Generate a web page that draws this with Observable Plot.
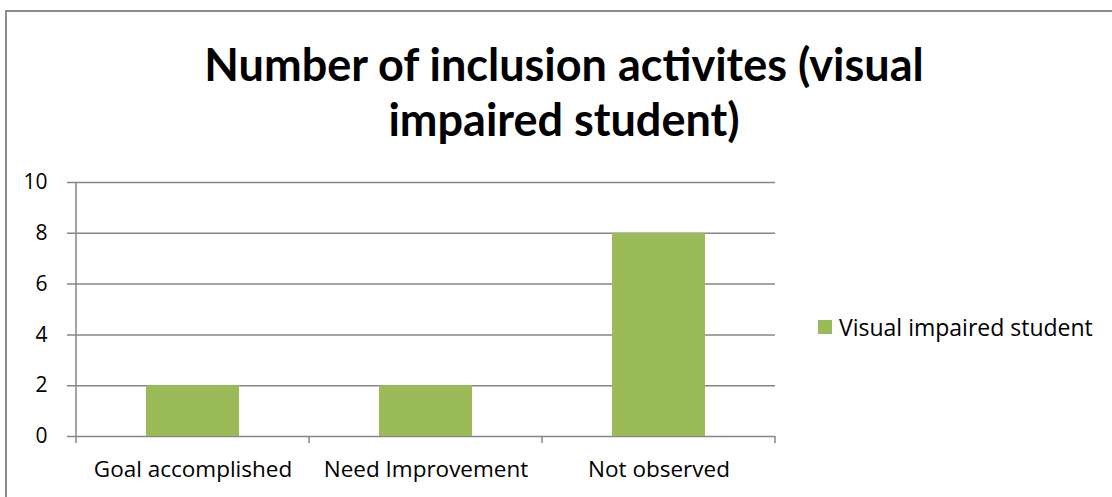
<!DOCTYPE html>
<html><head><meta charset="utf-8">
<script src="https://cdn.jsdelivr.net/npm/d3@7"></script>
<script src="https://cdn.jsdelivr.net/npm/@observablehq/plot@0.6"></script>
<style>
html,body{margin:0;padding:0;background:#fff;}
#wrap{position:relative;width:1112px;height:497px;overflow:hidden;font-family:"Open Sans",sans-serif;}
#frame{position:absolute;left:5px;top:10px;width:1200px;height:600px;border-left:2px solid #8c8c8c;border-top:2px solid #8c8c8c;box-sizing:border-box;}
#title{position:absolute;left:0;top:37px;width:1128px;text-align:center;font-family:Lato,sans-serif;font-weight:bold;font-size:45px;line-height:55px;color:#000;}
#legend{position:absolute;left:818px;top:311px;font-size:23px;color:#000;display:flex;align-items:center;}
#legend span.sw{display:inline-block;width:14px;height:14px;background:#9BBB59;margin-right:7px;}
#chart{position:absolute;left:0;top:0;}
</style></head>
<body><div id="wrap"><div id="frame"></div><div id="chart"></div>
<div id="title">Number of inclusion activites (visual<br>impaired student)</div>
<div id="legend"><span class="sw"></span><span id="ltext"></span></div>
</div>
<script>
const categories = ["Goal accomplished", "Need Improvement", "Not observed"];
const values = [2, 2, 8];
const yTicks = [0, 2, 4, 6, 8, 10];
const seriesName = "Visual impaired student";

const data = categories.map((c, i) => ({category: c, value: values[i]}));
document.getElementById("ltext").textContent = seriesName;

const boundaryTicks = (index, scales, values, dim) => {
  const g = d3.create("svg:g");
  const bw = scales.x.bandwidth();
  const y0 = scales.y(0);
  const xs = categories.map(c => scales.x(c));
  xs.push(xs[xs.length - 1] + bw);
  for (const x of xs) {
    g.append("line").attr("x1", x).attr("x2", x).attr("y1", y0).attr("y2", y0 + 7)
      .attr("stroke", "#868686").attr("stroke-width", 1.5);
  }
  g.append("line").attr("x1", xs[0]).attr("x2", xs[0]).attr("y1", scales.y(10)).attr("y2", y0)
    .attr("stroke", "#868686").attr("stroke-width", 1.5);
  return g.node();
};

const chart = Plot.plot({
  width: 1112,
  height: 497,
  marginLeft: 75,
  marginRight: 337,
  marginTop: 182,
  marginBottom: 61,
  style: {fontFamily: "'Open Sans', sans-serif", fontSize: "21px", color: "#000", background: "transparent", overflow: "visible"},
  x: {domain: categories, padding: 0, label: null},
  y: {domain: [0, 10], ticks: yTicks, label: null},
  marks: [
    Plot.ruleY(yTicks, {stroke: "#868686", strokeWidth: 1.5, strokeOpacity: 1, insetLeft: -8}),
    Plot.barY(data, {x: "category", y: "value", fill: "#9BBB59", insetLeft: 70, insetRight: 70}),
    boundaryTicks,
    Plot.axisY({ticks: yTicks, tickSize: 0, tickPadding: 28, fontSize: 21, label: null}),
    Plot.axisX({tickSize: 0, tickPadding: 25, fontSize: 22.5, label: null})
  ]
});
document.getElementById("chart").appendChild(chart);
</script>
</body></html>
